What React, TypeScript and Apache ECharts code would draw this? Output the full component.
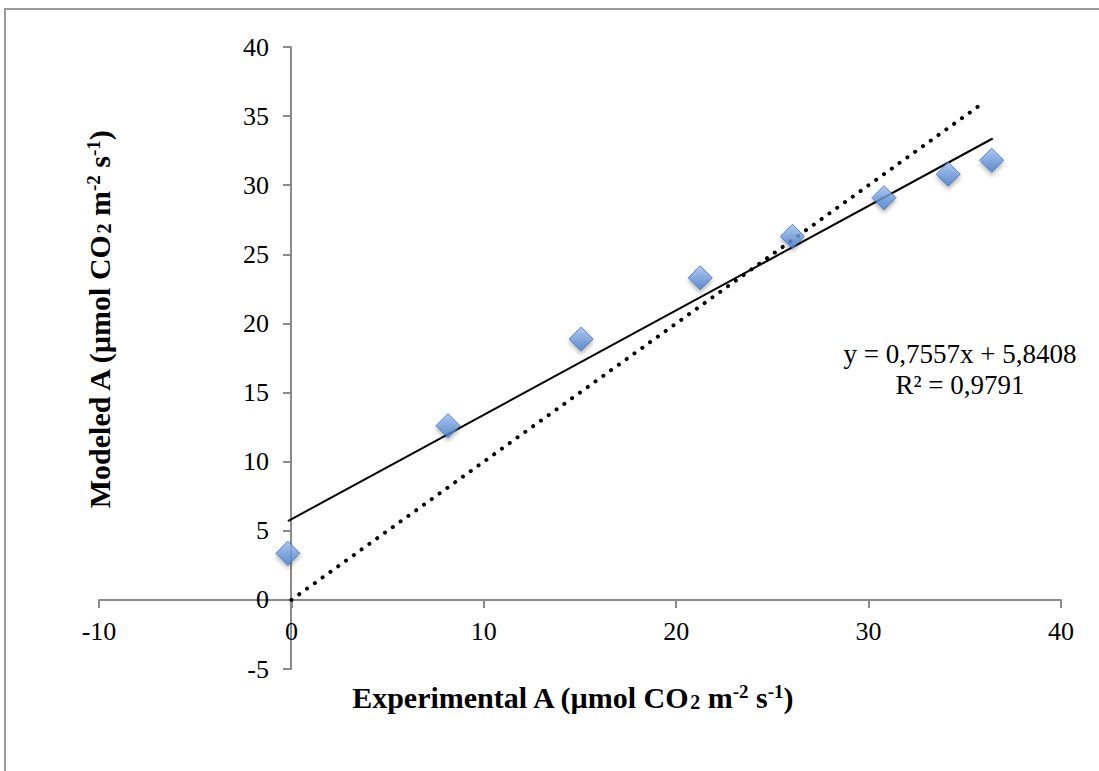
import React, { useEffect, useRef } from "react";
import * as echarts from "echarts";

const experimentalA = [-0.18, 8.14, 15.06, 21.25, 26.04, 30.8, 34.14, 36.4];
const modeledA = [3.37, 12.6, 18.87, 23.3, 26.3, 29.1, 30.8, 31.8];
const trendX = [-0.18, 36.45];
const trendY = [5.7, 33.38];
const oneToOneX = [0, 35.7];
const oneToOneY = [0, 35.7];
const equationText = "y = 0,7557x + 5,8408";
const r2Text = "R² = 0,9791";

const FONT = "'Liberation Serif', 'DejaVu Serif', serif";

export default function App() {
  const ref = useRef<HTMLDivElement>(null);
  useEffect(() => {
    if (!ref.current) return;
    const chart = echarts.init(ref.current, null, { renderer: "svg" });
    const axisColor = "#8a8a8a";
    const richTitle = {
      b: { fontFamily: FONT, fontSize: 30, fontWeight: "bold", color: "#000" },
      sub: { fontFamily: FONT, fontSize: 20, fontWeight: "bold", color: "#000", verticalAlign: "bottom" },
      sup: { fontFamily: FONT, fontSize: 19, fontWeight: "bold", color: "#000", verticalAlign: "top" },
    };
    const titleStr = (name: string) =>
      `{b|${name} (µmol CO}{sub|2}{b| m}{sup|-2}{b| s}{sup|-1}{b|)}`;
    chart.setOption({
      animation: false,
      backgroundColor: "#fff",
      grid: { left: 99, right: 38, top: 47, bottom: 102, containLabel: false },
      xAxis: {
        type: "value",
        min: -10,
        max: 40,
        interval: 10,
        position: "bottom",
        offset: -69,
        axisLine: { show: true, onZero: false, lineStyle: { color: axisColor, width: 2 } },
        axisTick: { show: true, inside: false, length: 8, lineStyle: { color: axisColor, width: 2 } },
        axisLabel: { color: "#000", fontFamily: FONT, fontSize: 26, margin: 18 },
        splitLine: { show: false },
      },
      yAxis: {
        type: "value",
        min: -5,
        max: 40,
        interval: 5,
        position: "left",
        offset: -192,
        axisLine: { show: true, onZero: false, lineStyle: { color: axisColor, width: 2 } },
        axisTick: { show: true, inside: false, length: 8, lineStyle: { color: axisColor, width: 2 } },
        axisLabel: { color: "#000", fontFamily: FONT, fontSize: 26, margin: 22 },
        splitLine: { show: false },
      },
      series: [
        {
          type: "line",
          data: oneToOneX.map((x, i) => [x, oneToOneY[i]]),
          showSymbol: false,
          lineStyle: { color: "#000", width: 4, type: [0.1, 9.5], cap: "round" },
          z: 2,
        },
        {
          type: "line",
          data: trendX.map((x, i) => [x, trendY[i]]),
          showSymbol: false,
          lineStyle: { color: "#000", width: 2 },
          z: 2,
        },
        {
          type: "scatter",
          data: experimentalA.map((x, i) => [x, modeledA[i]]),
          symbol: "diamond",
          symbolSize: [24, 24],
          itemStyle: {
            color: new echarts.graphic.LinearGradient(0, 0, 0, 1, [
              { offset: 0, color: "#9fc0f0" },
              { offset: 1, color: "#467bcc" },
            ]),
            borderColor: "#3a6cb8",
            borderWidth: 1,
            shadowBlur: 4,
            shadowOffsetY: 3,
            shadowColor: "rgba(0,0,0,0.35)",
          },
          z: 3,
        },
      ],
      graphic: [
        {
          type: "line",
          shape: { x1: 5, y1: 8, x2: 5, y2: 771 },
          style: { stroke: "#9a9a9a", lineWidth: 2 },
          silent: true,
        },
        {
          type: "line",
          shape: { x1: 4, y1: 9, x2: 1099, y2: 9 },
          style: { stroke: "#9a9a9a", lineWidth: 2 },
          silent: true,
        },
        {
          type: "text",
          x: 960,
          y: 354,
          style: { text: equationText, fontFamily: FONT, fontSize: 27, fill: "#000", align: "center", verticalAlign: "middle" },
        },
        {
          type: "text",
          x: 960,
          y: 385,
          style: { text: r2Text, fontFamily: FONT, fontSize: 27, fill: "#000", align: "center", verticalAlign: "middle" },
        },
        {
          type: "text",
          x: 572,
          y: 697,
          style: { text: titleStr("Experimental A"), rich: richTitle, align: "center", verticalAlign: "middle" },
        },
        {
          type: "text",
          x: 99,
          y: 320,
          rotation: Math.PI / 2,
          style: { text: titleStr("Modeled A"), rich: richTitle, align: "center", verticalAlign: "middle" },
        },
      ],
    });
    return () => chart.dispose();
  }, []);
  return (
    <div
      ref={ref}
      style={{ position: "absolute", left: 0, top: 0, width: 1099, height: 771 }}
    />
  );
}
